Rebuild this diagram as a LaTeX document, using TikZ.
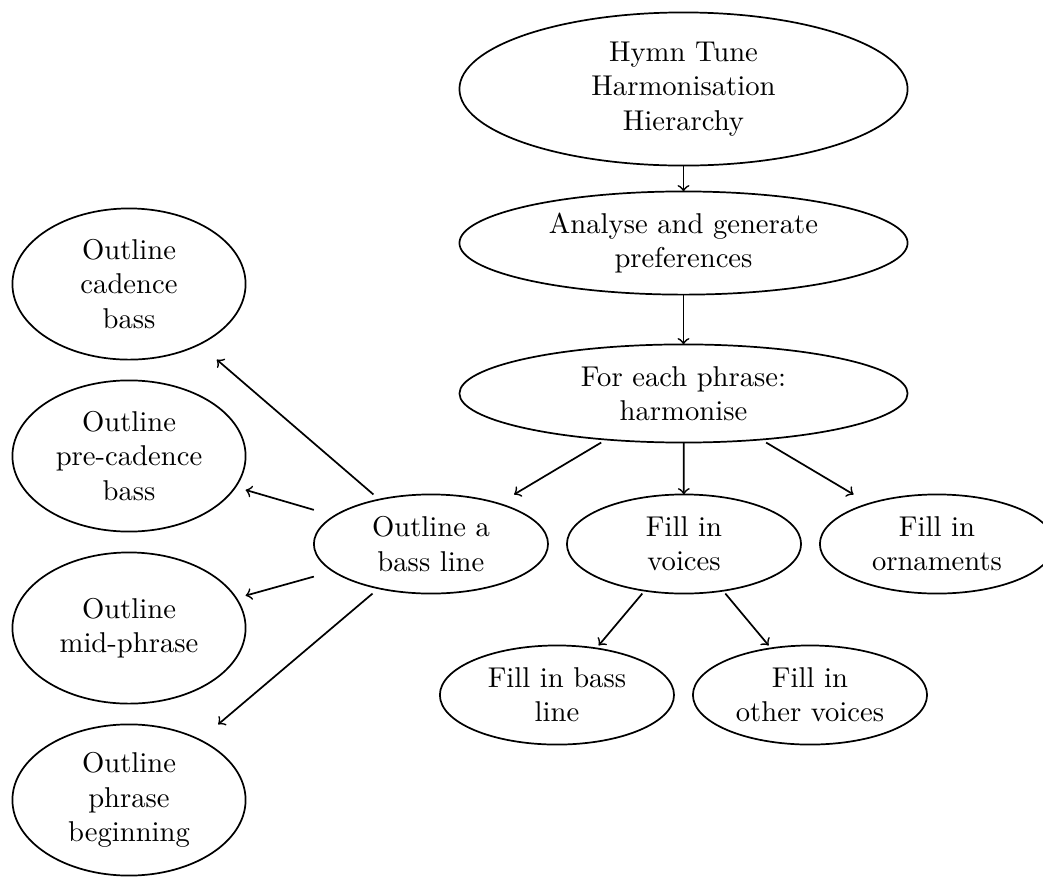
\documentclass[tikz,border=0pt]{standalone}
\usetikzlibrary{calc}
\begin{document}
\begin{tikzpicture}[
    item/.style={rectangle, inner sep=0pt, align=center, minimum width=#1},
    topitem/.style={item=5.485cm},
    lowitem/.style={item=2.859cm, minimum height=1.202cm},
    sideitem/.style={item=2.847cm, minimum height=1.841cm},
    arr/.style={->, semithick}]
      \useasboundingbox (0,0) rectangle (12.798,-10.785);
      \node[topitem, minimum height=1.865cm] (hymn) at (8.387,-1.092) {Hymn Tune\\Harmonisation\\Hierarchy};
      \node[topitem, minimum height=1.252cm] (analyse) at (8.387,-2.982) {Analyse and generate\\preferences};
      \node[topitem, minimum height=1.190cm] (phrase) at (8.387,-4.828) {For each phrase:\\harmonise};
      \node[lowitem] (bass) at (5.288,-6.675) {Outline a\\bass line};
      \node[lowitem] (voices) at (8.393,-6.675) {Fill in\\voices};
      \node[lowitem] (orn) at (11.497,-6.675) {Fill in\\ornaments};
      \node[lowitem] (fillbass) at (6.834,-8.528) {Fill in bass\\line};
      \node[lowitem] (fillother) at (9.939,-8.528) {Fill in\\other voices};
      \node[sideitem] (cad) at (1.583,-3.485) {Outline\\cadence\\bass};
      \node[sideitem] (precad) at (1.583,-5.595) {Outline\\pre-cadence\\bass};
      \node[sideitem] (mid) at (1.583,-7.706) {Outline\\mid-phrase};
      \node[sideitem] (begin) at (1.583,-9.816) {Outline\\phrase\\beginning};
      \foreach \nd in {hymn,analyse,phrase,bass,voices,orn,fillbass,fillother,cad,precad,mid,begin}
        \draw[semithick] let \p1=(\nd.north east), \p2=(\nd.center) in
          (\p2) ellipse ({\x1-\x2} and {\y1-\y2});
      \draw[arr] (hymn) -- (analyse);
      \draw[arr] (analyse) -- (phrase);
      \draw[arr] (phrase) -- (bass);
      \draw[arr] (phrase) -- (voices);
      \draw[arr] (phrase) -- (orn);
      \draw[arr] (voices) -- (fillbass);
      \draw[arr] (voices) -- (fillother);
      \draw[arr] (bass) -- (cad);
      \draw[arr] (bass) -- (precad);
      \draw[arr] (bass) -- (mid);
      \draw[arr] (bass) -- (begin);
\end{tikzpicture}
\end{document}
